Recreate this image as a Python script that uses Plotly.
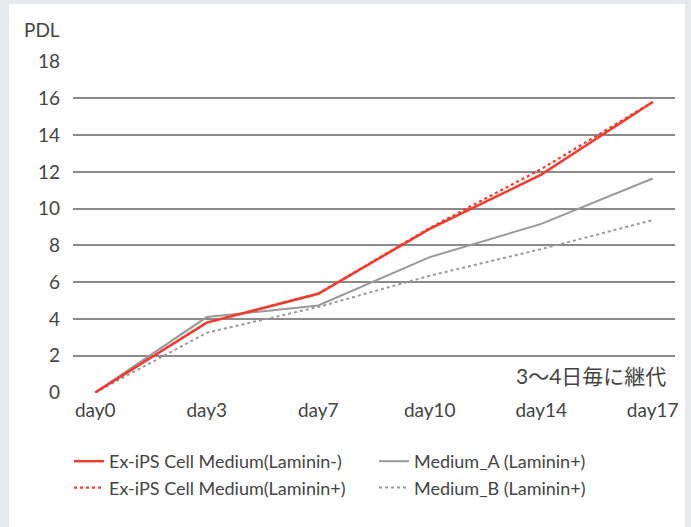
import plotly.graph_objects as go

days = ["day0", "day3", "day7", "day10", "day14", "day17"]
exips_lam_minus = [0, 3.8, 5.37, 8.9, 11.85, 15.8]
exips_lam_plus = [0, 3.8, 5.37, 8.95, 12.15, 15.8]
medium_a = [0, 4.1, 4.73, 7.36, 9.17, 11.64]
medium_b = [0, 3.25, 4.65, 6.35, 7.8, 9.37]
y_ticks = [0, 2, 4, 6, 8, 10, 12, 14, 16, 18]

RED = "#f23b2c"
GRAY = "#999999"
TXT = "#444444"
FONT = "Lato"

fig = go.Figure()
fig.add_trace(go.Scatter(x=days, y=medium_b, mode="lines", name="Medium_B (Laminin+)",
                         line=dict(color=GRAY, width=2, dash="dot"), legendrank=4))
fig.add_trace(go.Scatter(x=days, y=medium_a, mode="lines", name="Medium_A (Laminin+)",
                         line=dict(color=GRAY, width=2), legendrank=2))
fig.add_trace(go.Scatter(x=days, y=exips_lam_plus, mode="lines", name="Ex-iPS Cell Medium(Laminin+)",
                         line=dict(color=RED, width=2.2, dash="dot"), legendrank=3))
fig.add_trace(go.Scatter(x=days, y=exips_lam_minus, mode="lines", name="Ex-iPS Cell Medium(Laminin-)",
                         line=dict(color=RED, width=2.5), legendrank=1))

L, R, T, B = 73, 16, 61, 134
W, H = 691, 527
pw = W - L - R
ph = H - T - B

def px(xp):
    return (xp - L) / pw

def py(yp):
    return (H - B - yp) / ph

fig.update_layout(
    width=W, height=H,
    margin=dict(l=L, r=R, t=T, b=B, pad=0, autoexpand=False),
    paper_bgcolor="#e6eaed",
    plot_bgcolor="white",
    font=dict(family=FONT, color=TXT, size=19),
    xaxis=dict(type="category", range=[-0.2, 5.2], showgrid=False, zeroline=False,
               showline=False, ticks="", tickfont=dict(size=19, color=TXT),
               ticklabelstandoff=4, automargin=False),
    yaxis=dict(range=[-0.03, 18.03], tickvals=y_ticks, showgrid=True, gridcolor="#8a8a8a",
               gridwidth=1.5, zeroline=False, showline=False, ticks="",
               tickfont=dict(size=19, color=TXT), ticklabelstandoff=12, automargin=False),
    showlegend=True,
    legend=dict(orientation="h", x=px(69), y=py(443), xanchor="left", yanchor="top",
                entrywidth=260, entrywidthmode="pixels", traceorder="normal",
                font=dict(size=18, color=TXT), bgcolor="rgba(0,0,0,0)", itemwidth=30),
    shapes=[dict(type="rect", xref="paper", yref="paper", x0=px(9), x1=px(685),
                 y0=py(540), y1=py(4), fillcolor="white", line=dict(width=0), layer="below")],
    annotations=[
        dict(text="PDL", xref="paper", yref="paper", x=px(22), y=py(30), xanchor="left",
             yanchor="middle", showarrow=False, font=dict(size=19, color=TXT)),
        dict(text="3～4日毎に継代", xref="paper", yref="paper", x=px(668), y=py(375),
             xanchor="right", yanchor="middle", showarrow=False,
             font=dict(size=21, color=TXT, family="Lato, Noto Sans CJK JP")),
    ],
)

fig.write_html("out.html", config={"displayModeBar": False},
               post_script="document.body.style.margin='0';document.body.style.overflow='hidden';")
